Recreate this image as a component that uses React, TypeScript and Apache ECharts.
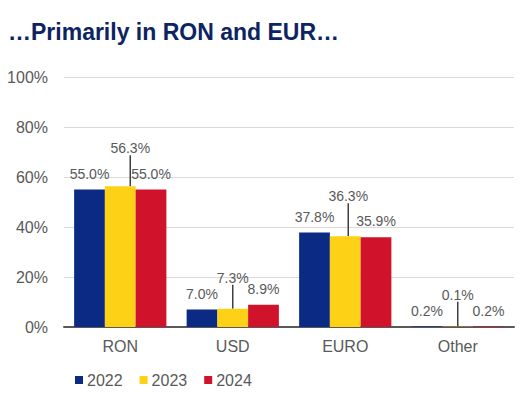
import React, { useEffect, useRef } from "react";
import * as echarts from "echarts";

const categories = ["RON", "USD", "EURO", "Other"];
const years = ["2022", "2023", "2024"];
const values2022 = [55.0, 7.0, 37.8, 0.2];
const values2023 = [56.3, 7.3, 36.3, 0.1];
const values2024 = [55.0, 8.9, 35.9, 0.2];
const yTicks = [0, 20, 40, 60, 80, 100];

const colors = ["#0A2A84", "#FCD116", "#D0122A"];
// label displacement for the middle (2023) series, as [dx, dy]
const midLabelShift: [number, number][] = [
  [10, -22],
  [0, -15],
  [3, -24],
  [0, -16],
];

const FONT = "'Liberation Sans', Arial, sans-serif";

export default function App() {
  const ref = useRef<HTMLDivElement>(null);
  useEffect(() => {
    if (!ref.current) return;
    const chart = echarts.init(ref.current, undefined, { renderer: "svg" });
    const seriesValues = [values2022, values2023, values2024];
    const series = years.map((y, i) => {
      const s: any = {
        name: y,
        type: "bar",
        data: seriesValues[i],
        barGap: "0%",
        barCategoryGap: "18%",
        itemStyle: { color: colors[i] },
        label: {
          show: true,
          position: "top",
          distance: 9,
          formatter: (p: any) => Number(p.value).toFixed(1) + "%",
          color: "#595959",
          fontSize: 14,
          fontFamily: FONT,
        },
      };
      if (i === 1) {
        s.labelLine = {
          show: true,
          lineStyle: { color: "#404040", width: 1.5 },
        };
        s.labelLayout = (p: any) => {
          const sh = midLabelShift[p.dataIndex];
          return { dx: sh[0], dy: sh[1] };
        };
      }
      return s;
    });
    chart.setOption({
      animation: false,
      textStyle: { fontFamily: FONT },
      title: {
        text: "…Primarily in RON and EUR…",
        left: 3,
        top: 15,
        textStyle: {
          fontFamily: FONT,
          fontWeight: "bold",
          fontSize: 23,
          color: "#0D2463",
        },
      },
      legend: {
        data: years,
        left: 70,
        top: 367,
        icon: "rect",
        itemWidth: 8,
        itemHeight: 8,
        itemGap: 17,
        textStyle: { fontSize: 16, color: "#595959", fontFamily: FONT, padding: [0, 0, 0, -1] },
      },
      grid: { left: 64, right: 18, top: 77, bottom: 68, containLabel: false },
      xAxis: {
        type: "category",
        data: categories,
        axisLine: { show: true, lineStyle: { color: "#595959", width: 2 } },
        axisTick: { show: false },
        axisLabel: { color: "#595959", fontSize: 16, margin: 11, fontFamily: FONT },
      },
      yAxis: {
        type: "value",
        min: yTicks[0],
        max: yTicks[yTicks.length - 1],
        interval: 20,
        axisLine: { show: false },
        axisTick: { show: false },
        axisLabel: {
          color: "#595959",
          fontSize: 16,
          margin: 16,
          fontFamily: FONT,
          formatter: "{value}%",
        },
        splitLine: { lineStyle: { color: "#D9D9D9", width: 1 } },
      },
      series,
    });
    return () => chart.dispose();
  }, []);
  return <div ref={ref} style={{ width: 532, height: 395, position: "absolute", left: 0, top: 0 }} />;
}
